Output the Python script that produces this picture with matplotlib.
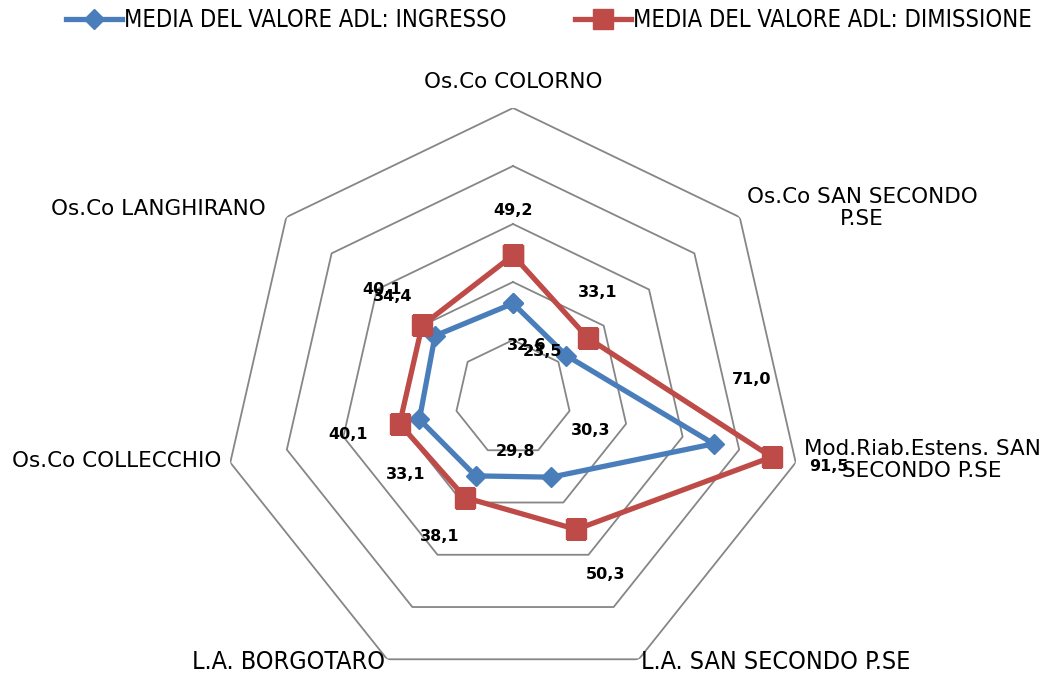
import numpy as np
import matplotlib
matplotlib.use("Agg")
import matplotlib.pyplot as plt

categories = ["Os.Co COLORNO", "Os.Co SAN SECONDO\nP.SE", "Mod.Riab.Estens. SAN\nSECONDO P.SE",
              "L.A. SAN SECONDO P.SE", "L.A. BORGOTARO", "Os.Co COLLECCHIO", "Os.Co LANGHIRANO"]
ingresso = [32.6, 23.5, 71.0, 30.3, 29.8, 33.1, 34.4]
dimissione = [49.2, 33.1, 91.5, 50.3, 38.1, 40.1, 40.1]
series_names = ["MEDIA DEL VALORE ADL: INGRESSO", "MEDIA DEL VALORE ADL: DIMISSIONE"]
rings = [20, 40, 60, 80, 100]

W, H = 1047, 677
fig = plt.figure(figsize=(W / 100, H / 100), dpi=100)
cx, cy, R = 513, 398, 290
ax = fig.add_axes([(cx - R) / W, (H - cy - R) / H, 2 * R / W, 2 * R / H], projection="polar")
ax.set_theta_zero_location("N")
ax.set_theta_direction(-1)
ax.set_ylim(0, 100)
ax.grid(False)
ax.spines["polar"].set_visible(False)
ax.set_xticks([])
ax.set_yticks([])
ax.patch.set_alpha(0)

n = len(categories)
theta = np.arange(n) * 2 * np.pi / n
theta_c = np.append(theta, theta[0])

for r in rings:
    ax.plot(theta_c, [r] * (n + 1), color="#868686", lw=1.3, zorder=1)

blue = "#4A7EBB"
red = "#BE4B48"
l1, = ax.plot(theta_c, ingresso + ingresso[:1], color=blue, lw=3.8, marker="D", ms=10,
              markeredgecolor=blue, zorder=3, label=series_names[0])
l2, = ax.plot(theta_c, dimissione + dimissione[:1], color=red, lw=3.8, marker="s", ms=14,
              markeredgecolor=red, zorder=4, label=series_names[1])

off_blue = [(14, -42), (-24, 4), (38, 64), (39, 47), (40, 24), (-14, -55), (-42, 39)]
off_red = [(0, 45), (10, 46), (57, -9), (29, -45), (-25, -39), (-52, -11), (-40, 36)]
for vals, offs in ((ingresso, off_blue), (dimissione, off_red)):
    for t, v, o in zip(theta, vals, offs):
        ax.annotate(f"{v:.1f}".replace(".", ","), (t, v), xytext=o, textcoords="offset pixels",
                    ha="center", va="center", fontsize=11.5, fontweight="bold", color="black",
                    family="DejaVu Sans", zorder=6)

label_pos = [(513, 82), (862, 208), (922, 460), (776, 662), (288, 662), (117, 461), (158, 209)]
for i, (lab, (x, y)) in enumerate(zip(categories, label_pos)):
    cond = i in (3, 4)
    fig.text(x / W, 1 - y / H, lab, ha="center", va="center",
             fontsize=18 if cond else 15.5,
             family="DejaVu Sans", stretch="condensed" if cond else "normal",
             linespacing=1.15, color="black")

leg = fig.legend(handles=[l1, l2], loc="center", bbox_to_anchor=(549 / W, 1 - 20 / H), ncol=2,
                 frameon=False, handlelength=2.35, handletextpad=0.1, columnspacing=2.9,
                 borderpad=0, borderaxespad=0,
                 prop={"family": "DejaVu Sans", "size": 17, "stretch": "condensed"})

fig.savefig("out.png", dpi=100)
